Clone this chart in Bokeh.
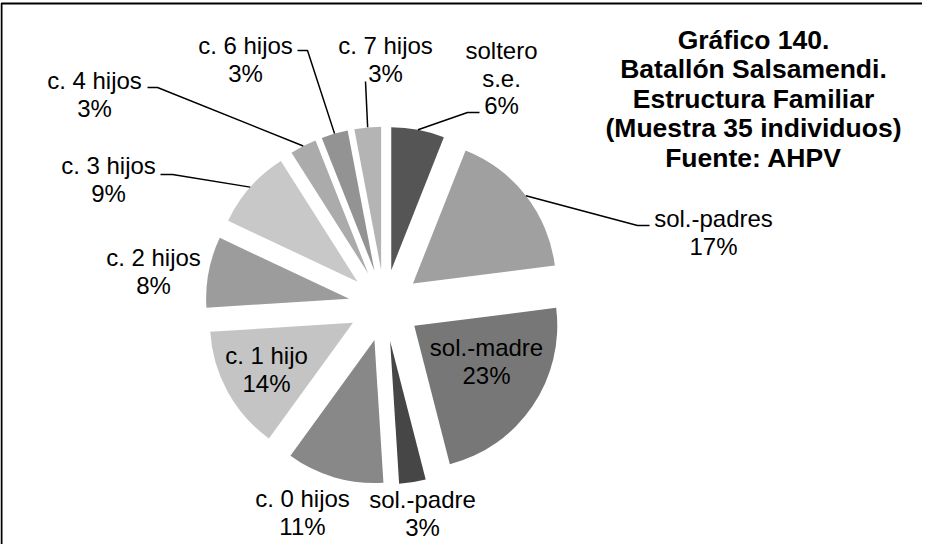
import math
from bokeh.plotting import figure
from bokeh.models import Range1d, ColumnDataSource
from bokeh.core.properties import value
from bokeh.embed import file_html
from bokeh.resources import INLINE

# ---------------- data ----------------
categories = ["soltero\ns.e.", "sol.-padres", "sol.-madre", "sol.-padre", "c. 0 hijos",
              "c. 1 hijo", "c. 2 hijos", "c. 3 hijos", "c. 4 hijos", "c. 6 hijos", "c. 7 hijos"]
percents = [6, 17, 23, 3, 11, 14, 8, 9, 3, 3, 3]
colors = ["#555555", "#a0a0a0", "#777777", "#464646", "#888888",
          "#c4c4c4", "#9c9c9c", "#c8c8c8", "#ababab", "#939393", "#b4b4b4"]
title_lines = ["Gráfico 140.", "Batallón Salsamendi.", "Estructura Familiar",
               "(Muestra 35 individuos)", "Fuente: AHPV"]

# ---------------- layout (page pixels) ----------------
W, H = 922, 544
CX, CY, R, EXPLODE = 392, 313, 143, 36
label_pos = [(509, 58), (721, 226), (494, 355), (430, 507), (310, 506), (274, 363),
             (161, 265), (116, 173), (102, 88), (253, 53), (393, 53)]
leader = [((475, 120), (487, 120)), ((645, 233), (657, 233)), None, None, None, None, None,
          ((180, 182), (168, 182)), ((165, 95), (155, 95)), ((315, 58), (305, 58)),
          ((373, 89), (373, 89))]
LINE_GAP = 27.5
TITLE_X, TITLE_Y0, TITLE_GAP = 761, 47, 29.5
FONT = value("Liberation Sans")


def Y(py):
    return 560 - py


p = figure(width=W, height=H, x_range=Range1d(8, 8 + W), y_range=Range1d(8, 8 + H),
           output_backend="svg", toolbar_location=None, min_border=0)
p.axis.visible = False
p.grid.visible = False
p.outline_line_color = None
p.background_fill_color = "white"
p.border_fill_color = "white"

# border (top and left edges of the chart area)
p.line(x=[9, 9, 8 + W], y=[Y(8 + H), Y(11), Y(11)], line_color="black", line_width=2)

total = sum(percents)
xs, ys, sa, ea = [], [], [], []
outer = []
cum = 0.0
for v in percents:
    a = cum / total * 360.0
    b = (cum + v) / total * 360.0
    m = math.radians((a + b) / 2)
    px = CX + EXPLODE * math.sin(m)
    py = CY - EXPLODE * math.cos(m)
    xs.append(px)
    ys.append(Y(py))
    sa.append(90 - b)
    ea.append(90 - a)
    outer.append((px + R * math.sin(m), py - R * math.cos(m)))
    cum += v

src = ColumnDataSource(dict(x=xs, y=ys, s=sa, e=ea, c=colors))
p.wedge(x="x", y="y", radius=R, start_angle="s", end_angle="e",
        start_angle_units="deg", end_angle_units="deg",
        fill_color="c", line_color=None, source=src)

# leader lines
for i, ld in enumerate(leader):
    if ld is None:
        continue
    (ex, ey), (fx, fy) = ld
    ox, oy = outer[i]
    p.line(x=[ox, ex, fx], y=[Y(oy), Y(ey), Y(fy)], line_color="black", line_width=1.5)

# labels
tx, ty, tt = [], [], []
for i, cat in enumerate(categories):
    lines = cat.split("\n") + [f"{percents[i]}%"]
    lx, ly = label_pos[i]
    for k, t in enumerate(lines):
        tx.append(lx)
        ty.append(Y(ly + k * LINE_GAP))
        tt.append(t)
p.text(x=tx, y=ty, text=tt, text_font=FONT, text_font_size="24px", text_color="black",
       text_align="center", text_baseline="middle")

# title
p.text(x=[TITLE_X] * len(title_lines),
       y=[Y(TITLE_Y0 + k * TITLE_GAP) for k in range(len(title_lines))],
       text=title_lines, text_font=FONT, text_font_size="26.5px", text_font_style="bold",
       text_color="black", text_align="center", text_baseline="middle")

open("out.html", "w").write(file_html(p, INLINE))
